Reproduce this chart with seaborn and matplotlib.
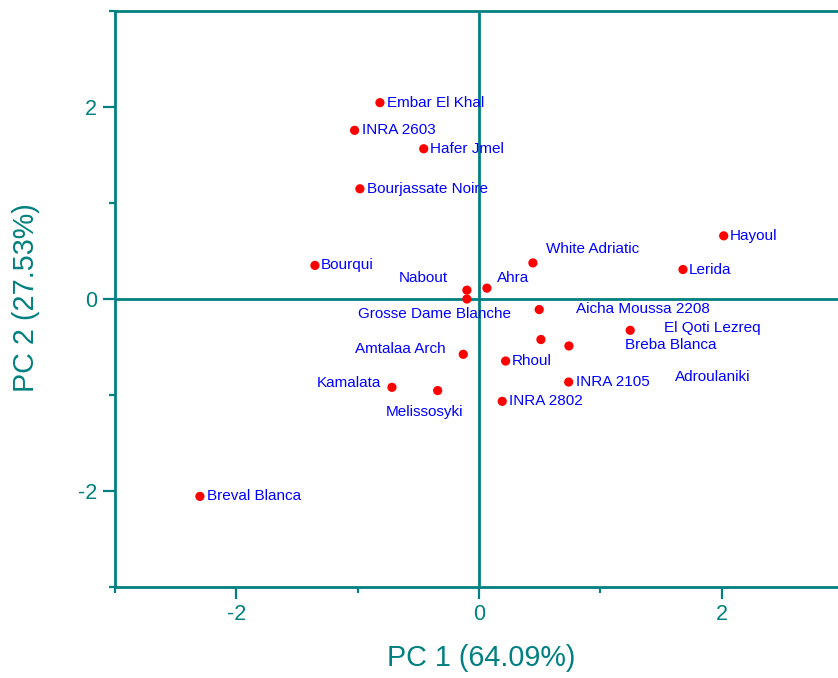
import matplotlib
matplotlib.use("Agg")
import matplotlib.pyplot as plt
import seaborn as sns
import pandas as pd
from matplotlib.ticker import MultipleLocator

# ---- data ----
cultivars = ["Embar El Khal", "INRA 2603", "Hafer Jmel", "Bourjassate Noire", "Bourqui",
             "Hayoul", "Lerida", "White Adriatic", "Ahra", "Nabout", "Grosse Dame Blanche",
             "Aicha Moussa 2208", "El Qoti Lezreq", "Adroulaniki", "Breba Blanca",
             "Amtalaa Arch", "Rhoul", "INRA 2105", "INRA 2802", "Kamalata", "Melissosyki",
             "Breval Blanca"]
pc1 = [-0.816, -1.025, -0.455, -0.981, -1.352,
       2.018, 1.682, 0.445, 0.066, -0.099, -0.099,
       0.497, 1.247, 0.742, 0.511,
       -0.129, 0.220, 0.740, 0.192, -0.717, -0.340,
       -2.300]
pc2 = [2.045, 1.757, 1.565, 1.148, 0.350,
       0.658, 0.307, 0.376, 0.113, 0.092, 0.000,
       -0.110, -0.326, -0.489, -0.422,
       -0.576, -0.646, -0.865, -1.066, -0.920, -0.954,
       -2.056]
# label offsets in pixels (dx, dy) from marker to label left-centre
label_offsets = [(7, 0), (7, 0), (6, 0), (7, 0), (6, 0),
                 (6, 0), (6, 0), (13, 14), (10, 10), (-68, 12), (-109, -15),
                 (37, 1), (34, 2), (106, -31), (84, -5),
                 (-108, 5), (6, 0), (7, 0), (7, 0), (-75, 4), (-52, -21),
                 (7, 0)]
xlabel_text = "PC 1 (64.09%)"
ylabel_text = "PC 2 (27.53%)"

df = pd.DataFrame({"PC1": pc1, "PC2": pc2, "name": cultivars})

TEAL = "#008080"
BLUE = "#0000FF"

sns.set_style("white")
plt.rcParams["font.family"] = ["Liberation Sans", "DejaVu Sans"]
plt.rcParams["axes.unicode_minus"] = False

fig = plt.figure(figsize=(8.38, 6.78), dpi=100)
ax = fig.add_axes([115 / 838, 91 / 678, 723 / 838, 576 / 678])

ax.axhline(0, color=TEAL, lw=2.0, zorder=1)
ax.axvline(0, color=TEAL, lw=2.0, zorder=1)

sns.scatterplot(data=df, x="PC1", y="PC2", color="#FF0000", s=44, edgecolor="none",
                ax=ax, zorder=3, legend=False)

for name, x, y, (dx, dy) in zip(cultivars, pc1, pc2, label_offsets):
    ax.annotate(name, (x, y), xytext=(dx, dy), textcoords="offset pixels",
                ha="left", va="center", color=BLUE, fontsize=11, zorder=4)

ax.set_xlim(-3, 2.96)
ax.set_ylim(-3, 3)
ax.xaxis.set_major_locator(MultipleLocator(2))
ax.xaxis.set_minor_locator(MultipleLocator(1))
ax.yaxis.set_major_locator(MultipleLocator(2))
ax.yaxis.set_minor_locator(MultipleLocator(1))
ax.tick_params(axis="both", which="major", direction="out", length=8.5, width=1.6,
               color=TEAL, labelcolor=TEAL, labelsize=15.5, pad=4,
               bottom=True, left=True, top=False, right=False)
ax.tick_params(axis="y", which="major", pad=4.5)
ax.tick_params(axis="both", which="minor", direction="out", length=4.3, width=1.6,
               color=TEAL, bottom=True, left=True, top=False, right=False)

for side in ["left", "bottom", "top"]:
    ax.spines[side].set_color(TEAL)
    ax.spines[side].set_linewidth(2.0)
ax.spines["right"].set_visible(False)

ax.set_xlabel(xlabel_text, color=TEAL, fontsize=20.7)
ax.set_ylabel(ylabel_text, color=TEAL, fontsize=20.7)
ax.xaxis.set_label_coords((481 - 115) / 723, (587 - 644) / 576)
ax.xaxis.label.set_va("top")
ax.yaxis.set_label_coords((40 - 115) / 723, (587 - 298) / 576)

fig.savefig("out.png", dpi=100)
